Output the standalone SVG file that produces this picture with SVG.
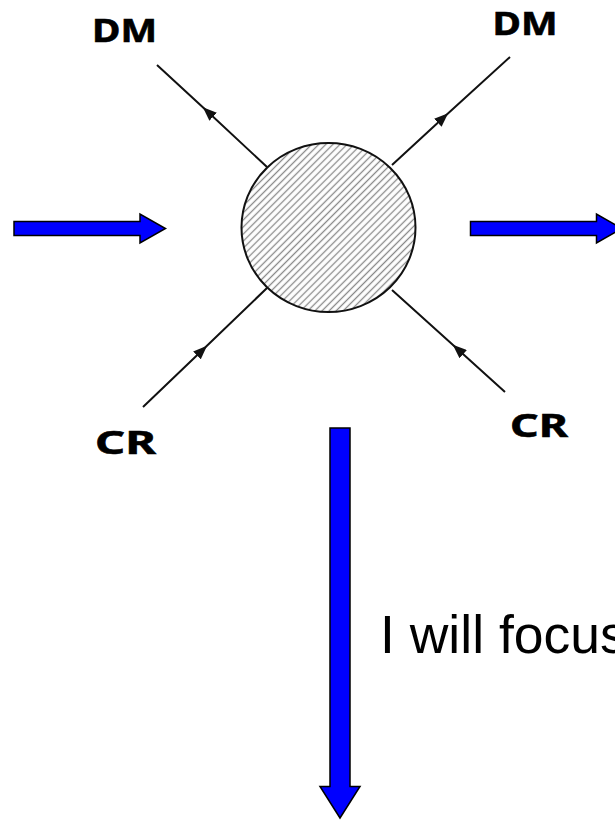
<svg xmlns="http://www.w3.org/2000/svg" width="615" height="822" viewBox="0 0 615 822">
  <style>
    .lbl { font-family: "Noto Sans", "Open Sans", sans-serif; font-weight: bold; font-size: 33px; fill: #000; stroke: #000; stroke-width: 0.6; }
    .big { font-family: "Liberation Sans", Arial, sans-serif; font-size: 53.5px; fill: #000; }
    .leg { fill: none; stroke: #111; stroke-width: 2; marker-mid: url(#tri); }
    .block { fill: #0000FF; stroke: #000; stroke-width: 1.5; stroke-linejoin: miter; }
  </style>
  <defs>
    <pattern id="hatch" width="5" height="5" patternUnits="userSpaceOnUse" patternTransform="rotate(-45)">
      <rect width="5" height="5" fill="#fff"/>
      <line x1="0" y1="2.5" x2="5" y2="2.5" stroke="#8a8a8a" stroke-width="1.3"/>
    </pattern>
    <marker id="tri" markerWidth="14" markerHeight="11" refX="7" refY="5.5" orient="auto" markerUnits="userSpaceOnUse">
      <path d="M0,0 L14,5.5 L0,11 Z" fill="#111"/>
    </marker>
  </defs>
  <rect width="615" height="822" fill="#fff"/>

  <g id="connectors">
    <path class="leg" d="M267,167 L208,112 L157,65"/>
    <path class="leg" d="M392,165 L443,118 L510,57"/>
    <path class="leg" d="M143,407 L202,350.5 L267,288"/>
    <path class="leg" d="M505,392 L458,349.5 L392,290"/>
    <polygon class="block" points="14,221.5 140,221.5 140,214 165.5,228.5 140,243 140,235.5 14,235.5"/>
    <polygon class="block" points="470.5,221.5 596.5,221.5 596.5,214 622,228.5 596.5,243 596.5,235.5 470.5,235.5"/>
    <polygon class="block" points="330,428 350,428 350,786.5 360,786.5 340,818 320,786.5 330,786.5"/>
  </g>

  <g id="vertex">
    <ellipse cx="328.5" cy="227.5" rx="87" ry="84.5" fill="url(#hatch)" stroke="#111" stroke-width="2"/>
  </g>

  <g id="label-dm-left"><text class="lbl" x="92" y="42" textLength="65" lengthAdjust="spacingAndGlyphs">DM</text></g>
  <g id="label-dm-right"><text class="lbl" x="492.5" y="34.5" textLength="65" lengthAdjust="spacingAndGlyphs">DM</text></g>
  <g id="label-cr-left"><text class="lbl" x="95" y="453.5" textLength="61" lengthAdjust="spacingAndGlyphs">CR</text></g>
  <g id="label-cr-right"><text class="lbl" x="510" y="437" textLength="58" lengthAdjust="spacingAndGlyphs">CR</text></g>
  <g id="caption"><text class="big" x="380" y="653.3">I will focus</text></g>
</svg>
